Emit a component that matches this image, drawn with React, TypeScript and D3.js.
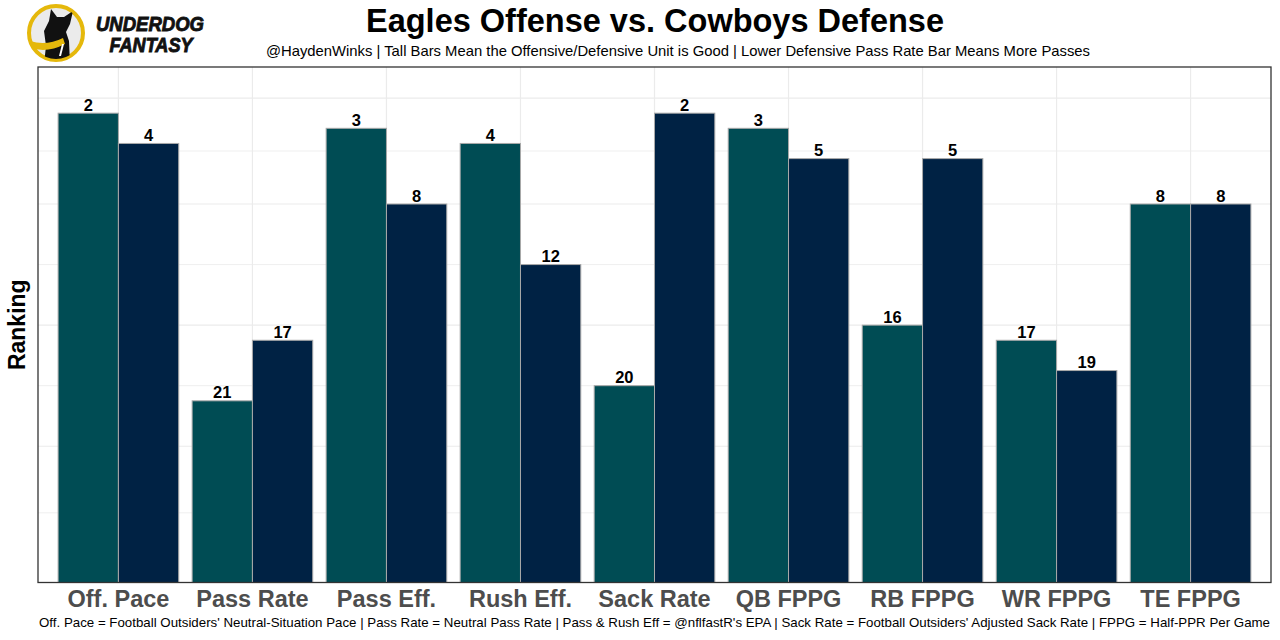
import React from 'react';
import * as d3 from 'd3';

// chart values
const categories = ['Off. Pace', 'Pass Rate', 'Pass Eff.', 'Rush Eff.', 'Sack Rate', 'QB FPPG', 'RB FPPG', 'WR FPPG', 'TE FPPG'];
const eaglesRank = [2, 21, 3, 4, 20, 3, 16, 17, 8];
const cowboysRank = [4, 17, 8, 12, 2, 5, 5, 19, 8];
const units = ['offense', 'defense'];
const unitColors = ['#004C54', '#002244'];
// horizontal grid lines, in rank units
const gridRanks = [1, 4.5, 8, 12, 16, 20, 24, 28.4];
const maxRank = 33;

const title = 'Eagles Offense vs. Cowboys Defense';
const subtitle = '@HaydenWinks | Tall Bars Mean the Offensive/Defensive Unit is Good | Lower Defensive Pass Rate Bar Means More Passes';
const caption = "Off. Pace = Football Outsiders' Neutral-Situation Pace | Pass Rate = Neutral Pass Rate | Pass & Rush Eff = @nflfastR's EPA | Sack Rate = Football Outsiders' Adjusted Sack Rate | FPPG = Half-PPR Per Game";

const W = 1280;
const H = 640;
const panel = { left: 38, right: 1271, top: 67, bottom: 582.5 };
const font = '"Liberation Sans", Arial, sans-serif';

const App: React.FC = () => {
  const x = d3
    .scaleBand<string>()
    .domain(categories)
    .range([panel.left, panel.right])
    .paddingInner(0)
    .paddingOuter(0.1);
  const step = x.step();
  const xInner = d3.scaleBand<string>().domain(units).range([step * 0.05, step * 0.95]);

  // bar height = how many ranks from the bottom (33 - rank)
  const y = d3.scaleLinear().domain([0, 34.05]).range([panel.bottom, panel.top]);
  const yRank = (r: number) => y(maxRank - r);

  const rows = categories.map((c, i) => ({ cat: c, values: [eaglesRank[i], cowboysRank[i]] }));

  return (
    <svg width={W} height={H} style={{ position: 'absolute', left: 0, top: 0, background: '#fff' }}>
      {/* logo */}
      <g>
        <defs>
          <clipPath id="logoClip">
            <circle cx={56} cy={33} r={26} />
          </clipPath>
        </defs>
        <circle cx={56} cy={33} r={27} fill="#ebebeb" stroke="#E5B80B" strokeWidth={4} />
        <g clipPath="url(#logoClip)">
          <path d="M44 64 L46 46 L44 31 L49 21 L51 9 L57 17 L64 17 L73 11 L70 24 L66 32 L69 41 L70 64 Z" fill="#111" />
          <path d="M27 40 Q45 47 63 38 L65 44 Q46 54 28 47 Z" fill="#E5B80B" />
          <path d="M62 44 L64 44 L61 56 L59 56 Z" fill="#fff" />
        </g>
        <text x={150} y={31} textAnchor="middle" fontFamily={font} fontWeight={900} fontStyle="italic" fontSize={21} fill="#111" stroke="#111" strokeWidth={0.9} textLength={108} lengthAdjust="spacingAndGlyphs">UNDERDOG</text>
        <text x={151} y={52} textAnchor="middle" fontFamily={font} fontWeight={900} fontStyle="italic" fontSize={20} fill="#111" stroke="#111" strokeWidth={0.9} textLength={83} lengthAdjust="spacingAndGlyphs">FANTASY</text>
      </g>

      {/* titles */}
      <text x={655} y={32} textAnchor="middle" fontFamily={font} fontWeight="bold" fontSize={32.5} fill="#000" textLength={578} lengthAdjust="spacingAndGlyphs">{title}</text>
      <text x={678} y={56} textAnchor="middle" fontFamily={font} fontSize={15} fill="#000" textLength={824} lengthAdjust="spacingAndGlyphs">{subtitle}</text>

      {/* grid */}
      <rect x={panel.left} y={panel.top} width={panel.right - panel.left} height={panel.bottom - panel.top} fill="#fff" />
      {gridRanks.map((r, i) => (
        <line key={'h' + i} x1={panel.left} x2={panel.right} y1={yRank(r)} y2={yRank(r)} stroke="#ebebeb" strokeWidth={i % 2 === 0 ? 1.2 : 0.8} />
      ))}
      {categories.map(c => {
        const cx = (x(c) as number) + step / 2;
        return <line key={'v' + c} x1={cx} x2={cx} y1={panel.top} y2={panel.bottom} stroke="#ebebeb" strokeWidth={1.2} />;
      })}

      {/* bars */}
      {rows.map(row => (
        <g key={row.cat} transform={`translate(${x(row.cat)},0)`}>
          {row.values.map((r, j) => {
            const bx = xInner(units[j]) as number;
            const bw = xInner.bandwidth();
            const top = yRank(r);
            return (
              <g key={j}>
                <rect x={bx} y={top} width={bw} height={panel.bottom - top} fill={unitColors[j]} stroke="#a9a9a9" strokeWidth={1} />
                <text x={bx + bw / 2} y={top - 2.5} textAnchor="middle" fontFamily={font} fontWeight="bold" fontSize={16.5} fill="#000">{r}</text>
              </g>
            );
          })}
        </g>
      ))}

      {/* panel border */}
      <rect x={panel.left} y={panel.top} width={panel.right - panel.left} height={panel.bottom - panel.top} fill="none" stroke="#333" strokeWidth={1.3} />

      {/* x axis labels */}
      {categories.map(c => (
        <text key={'t' + c} x={(x(c) as number) + step / 2} y={607} textAnchor="middle" fontFamily={font} fontWeight="bold" fontSize={23.5} fill="#4d4d4d">{c}</text>
      ))}

      {/* y axis title */}
      <text transform={`translate(25,${(panel.top + panel.bottom) / 2}) rotate(-90)`} textAnchor="middle" fontFamily={font} fontWeight="bold" fontSize={23} fill="#000">Ranking</text>

      {/* caption */}
      <text x={(panel.left + panel.right) / 2} y={627} textAnchor="middle" fontFamily={font} fontSize={13} fill="#000" textLength={panel.right - panel.left - 2} lengthAdjust="spacingAndGlyphs">{caption}</text>
    </svg>
  );
};

export default App;
